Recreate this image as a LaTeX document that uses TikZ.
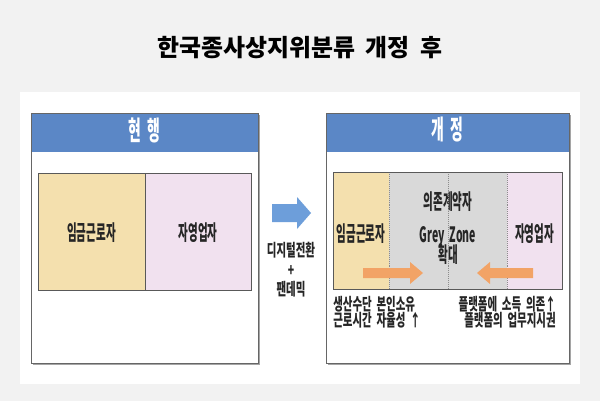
\documentclass[tikz,border=0pt]{standalone}
\usepackage{fontspec}
\setmainfont{Noto Sans CJK KR}[WordSpace=2]
\usepackage{graphicx}
\usetikzlibrary{shadows}
\definecolor{pagegray}{HTML}{F2F2F2}
\definecolor{headblue}{HTML}{5B87C6}
\definecolor{arrowblue}{HTML}{6D9EDA}
\definecolor{wageyellow}{HTML}{F4E0AE}
\definecolor{selfpink}{HTML}{F1E1EF}
\definecolor{zonegray}{HTML}{D9D9D9}
\definecolor{shiftorange}{HTML}{F2A366}
\definecolor{inktext}{HTML}{262626}
% condensed text (the source font is a narrow gothic)
\newcommand{\cond}[2][0.5]{\scalebox{#1}[1]{#2}}

\begin{document}
\begin{tikzpicture}[
    x=0.025cm, y=-0.025cm,
    %% Styles
    panel/.style={draw=black!60, line width=0.6pt, fill=white,
      drop shadow={shadow xshift=1.3pt, shadow yshift=-1.3pt, fill=black!50, opacity=0.7}},
    cellrow/.style={draw=black!65, line width=0.6pt,
      drop shadow={shadow xshift=0.8pt, shadow yshift=-0.8pt, fill=black!40, opacity=0.6}},
    split/.style={draw=black!45, line width=0.4pt, densely dotted},
    titletxt/.style={font=\fontsize{17}{19}\selectfont\bfseries, text=black, inner sep=0},
    headtxt/.style={font=\fontsize{19}{21}\selectfont\bfseries, text=white, inner sep=0},
    celltxt/.style={font=\fontsize{15}{17}\selectfont\bfseries, text=inktext, inner sep=0},
    notetxt/.style={font=\fontsize{12}{14}\selectfont\bfseries, text=inktext, inner sep=0}
  ]

  %% ── Page ───────────────────────────────────────────────
  \fill[pagegray] (0,0) rectangle (600,401);
  \useasboundingbox (0,0) rectangle (600,401);
  \fill[white] (20,92) rectangle (580,384);

  \node[titletxt] (title) at (300,48) {한국종사상지위분류 개정 후};

  %% ── Left panel: current ────────────────────────────────
  \path[panel] (31,113) rectangle (258,363);
  \fill[headblue] (31.3,113.3) rectangle (257.7,152);
  \draw[black!60, line width=0.6pt] (31,113) rectangle (258,363);
  \node[headtxt] (nowhead) at (144.5,130) {\cond[0.52]{현 행}};

  \path[cellrow] (38,173) rectangle (251,290);
  \fill[wageyellow] (38,173) rectangle (145,290);
  \fill[selfpink] (145,173) rectangle (251,290);
  \draw[black!65, line width=0.6pt] (38,173) rectangle (251,290)
    (145,173) -- (145,290);
  \node[celltxt] (nowwage) at (91.5,233) {\cond{임금근로자}};
  \node[celltxt] (nowself) at (198,233) {\cond{자영업자}};

  %% ── Middle: transition arrow ───────────────────────────
  \fill[arrowblue] (272,204) -- (297,204) -- (297,197) -- (311,213)
    -- (297,229) -- (297,222) -- (272,222) -- cycle;
  \node[notetxt] (digital) at (291,250) {\cond[0.62]{디지털전환}};
  \node[notetxt] (plus) at (291,271) {\cond[0.62]{+}};
  \node[notetxt] (pandemic) at (291,289) {\cond[0.62]{팬데믹}};

  %% ── Right panel: revised ───────────────────────────────
  \path[panel] (326,113) rectangle (569,363);
  \fill[headblue] (326.3,113.3) rectangle (568.7,152);
  \draw[black!60, line width=0.6pt] (326,113) rectangle (569,363);
  \node[headtxt] (newhead) at (447.5,130) {\cond[0.52]{개 정}};

  \path[cellrow] (333,172) rectangle (562,289);
  \fill[wageyellow] (333,172) rectangle (389,289);
  \fill[zonegray] (389,172) rectangle (507,289);
  \fill[selfpink] (507,172) rectangle (562,289);

  \node[celltxt] (newwage) at (361,234) {\cond{임금근로자}};
  \node[celltxt] (newself) at (534.5,234) {\cond{자영업자}};
  \node[celltxt] (dependent) at (448,202) {\cond{의존계약자}};
  \node[celltxt] (greyzone) at (448,237) {\cond{Grey Zone}};
  \node[celltxt] (widen) at (448,255) {\cond{확대}};

  \draw[split] (389,172) -- (389,289) (448,172) -- (448,289)
    (507,172) -- (507,289);
  \draw[black!65, line width=0.6pt] (333,172) rectangle (562,289);

  % shifts into the grey zone
  \fill[shiftorange] (363,268) -- (410,268) -- (410,262) -- (423,273)
    -- (410,284) -- (410,278) -- (363,278) -- cycle;
  \fill[shiftorange] (533,268) -- (490,268) -- (490,262) -- (477,273)
    -- (490,284) -- (490,278) -- (533,278) -- cycle;

  %% ── Notes under the row ────────────────────────────────
  \node[notetxt, anchor=west] (ownnote) at (333,304) {\cond[0.62]{생산수단 본인소유}};
  \node[notetxt, anchor=west] (timenote) at (333,320) {\cond[0.62]{근로시간 자율성 ↑}};
  \node[notetxt, anchor=east] (incomenote) at (556,304) {\cond[0.62]{플랫폼에 소득 의존↑}};
  \node[notetxt, anchor=east] (ordernote) at (556,320) {\cond[0.62]{플랫폼의 업무지시권}};

\end{tikzpicture}
\end{document}
